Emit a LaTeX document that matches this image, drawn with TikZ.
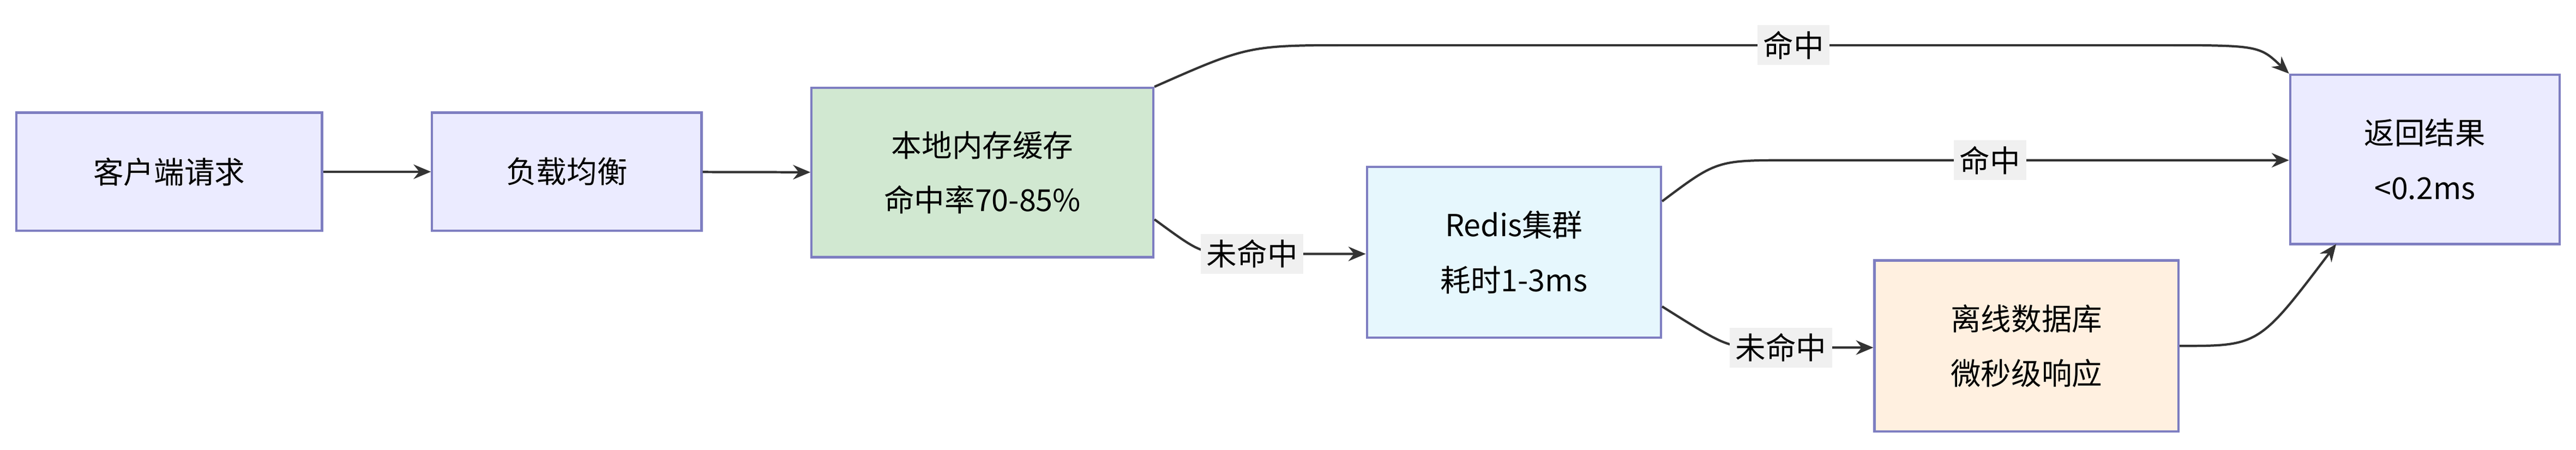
\documentclass[tikz,border=0pt]{standalone}
\usepackage{fontspec}
\setmainfont{Noto Sans CJK SC}
\usetikzlibrary{arrows.meta}
\tikzset{
  box/.style={draw=blue!35!gray!75, thick, align=center, inner sep=0pt, font=\fontsize{10.5}{19}\selectfont},
  lbl/.style={fill=gray!12, inner sep=2pt, font=\fontsize{10.5}{12}\selectfont},
  link/.style={thick, draw=black!80, -{Stealth[length=6pt,width=5pt]}}
}
\begin{document}
\begin{tikzpicture}
  \useasboundingbox (0,0) rectangle (31.36,5.47);
  \node[box, fill=blue!8, minimum width=3.72cm, minimum height=1.44cm] (client) at (2.06,3.38) {客户端请求};
  \node[box, fill=blue!8, minimum width=3.28cm, minimum height=1.44cm] (lb) at (6.9,3.38) {负载均衡};
  \node[box, fill=green!50!black!18, minimum width=4.16cm, minimum height=2.06cm] (local) at (11.96,3.37) {本地内存缓存\\命中率70-85\%};
  \node[box, fill=cyan!10, minimum width=3.58cm, minimum height=2.08cm] (redis) at (18.43,2.4) {Redis集群\\耗时1-3ms};
  \node[box, fill=orange!12, minimum width=3.7cm, minimum height=2.08cm] (db) at (24.67,1.26) {离线数据库\\微秒级响应};
  \node[box, fill=blue!8, minimum width=3.28cm, minimum height=2.06cm] (ret) at (29.52,3.53) {返回结果\\<0.2ms};
  \coordinate (retin) at (28.44,2.5);

  \draw[link] (client) -- (lb);
  \draw[link] (lb) -- (local);

  % hits
  \draw[link] (local.north east) .. controls (15.2,4.92) and (15.2,4.92) .. (16.5,4.92) -- (26.2,4.92)
     node[lbl, pos=0.55] {命中} .. controls (27.5,4.92) .. (ret.north west);
  \draw[link] (redis.east |- 0,3.02) .. controls (20.9,3.52) .. (21.8,3.52) -- (ret.west |- 0,3.52)
     node[lbl, pos=0.4] {命中};
  \draw[link] (db.east) .. controls (27.5,1.26) .. (retin);

  % misses
  \draw[link] (local.east |- 0,2.8) .. controls (14.6,2.4) .. (15.0,2.38) -- (redis.west |- 0,2.38)
     node[lbl, pos=0.15] {未命中};
  \draw[link] (redis.east |- 0,1.74) .. controls (21.0,1.26) .. (21.4,1.24) -- (db.west |- 0,1.24)
     node[lbl, pos=0.2] {未命中};
\end{tikzpicture}
\end{document}
